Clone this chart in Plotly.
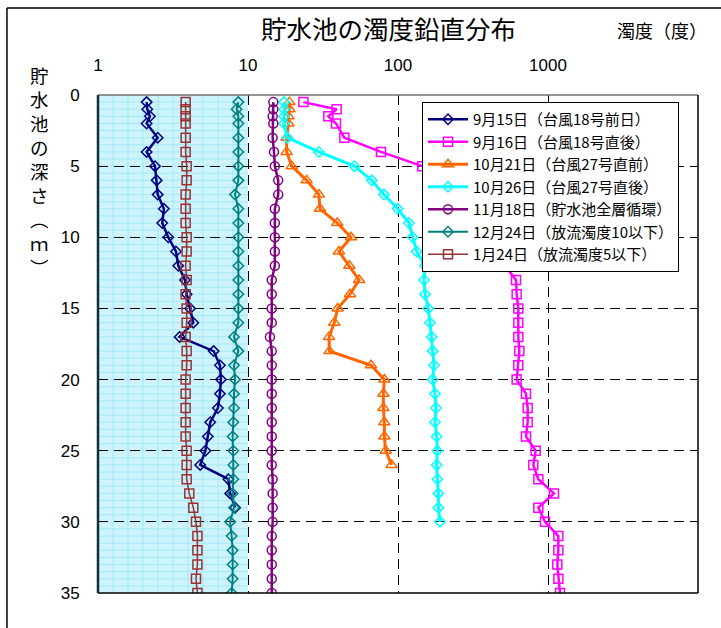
import plotly.graph_objects as go

# depths (m)
depth = [0.5, 1, 1.5, 2, 3, 4, 5, 6, 7, 8, 9, 10, 11, 12, 13, 14, 15, 16, 17, 18,
         19, 20, 21, 22, 23, 24, 25, 26, 27, 28, 29, 30, 31, 32, 33, 34, 35]

names = ["9月15日（台風18号前日）", "9月16日（台風18号直後）", "10月21日（台風27号直前）",
         "10月26日（台風27号直後）", "11月18日（貯水池全層循環）", "12月24日（放流濁度10以下）",
         "1月24日（放流濁度5以下）"]

s0915 = [2.11, 2.13, 2.22, 2.11, 2.5, 2.11, 2.4, 2.46, 2.5, 2.75, 2.68, 2.94, 3.31, 3.43,
         3.8, 3.9, 4.11, 4.32, 3.5, 5.9, 6.5, 6.6, 6.5, 6.3, 5.6, 5.4, 5.2, 4.8, 7.4, 7.6, 8.2]
s0916 = [23.4, 39.0, 34.3, 38.6, 43.9, 77.0, 145, 300, 380, 430, 470, 495, 505, 517,
         612, 618, 634, 634, 634, 644, 634, 618, 713, 732, 732, 713, 828, 798, 862,
         1096, 862, 955, 1172, 1172, 1154, 1172, 1202]
s1021 = [18.9, 18.9, 18.6, 18.6, 18.1, 18.1, 19.6, 24.6, 29.7, 30.2, 39.4, 48.6, 40.4,
         47.4, 55.0, 47.9, 39.6, 37.6, 34.7, 34.9, 66.1, 81.1, 79.9, 79.9, 81.1, 81.1,
         82.7, 90.7]
s1026 = [17.4, 17.4, 17.4, 17.4, 18.3, 29.7, 51.2, 66.8, 80.6, 99.5, 118.4, 125.2,
         133.2, 151.4, 149.1, 151.4, 159.3, 163.5, 167.7, 170.3, 173.8, 170.3, 176.5,
         179.2, 176.5, 181.1, 183.0, 181.1, 183.0, 185.8, 185.8, 190.5]
s1118 = [14.75, 14.75, 14.6, 14.75, 14.6, 14.9, 15.1, 15.9, 15.9, 15.1, 15.1, 15.1, 15.1,
         15.1, 14.4, 14.4, 14.4, 14.4, 14.0, 14.4, 14.4, 14.4, 14.4, 14.4, 14.4, 14.4,
         14.4, 14.4, 14.6, 14.6, 14.6, 14.6, 14.4, 14.4, 14.4, 14.4, 14.4]
s1224 = [8.62, 8.40, 8.62, 8.62, 8.62, 8.62, 8.62, 8.62, 8.19, 8.62, 8.62, 8.62, 8.62,
         8.62, 8.62, 8.62, 8.62, 8.62, 8.07, 8.62, 8.07, 8.19, 8.07, 8.07, 7.98, 7.90,
         7.98, 7.98, 7.98, 7.90, 8.07, 7.59, 7.78, 7.90, 7.90, 7.90, 7.78]
s0124 = [3.84, 3.84, 3.84, 3.84, 3.84, 3.84, 3.9, 3.9, 3.84, 3.84, 3.84, 3.9, 3.9, 3.84,
         3.9, 3.84, 3.9, 3.9, 3.84, 3.9, 3.9, 3.84, 3.84, 3.84, 3.84, 3.84, 3.9, 3.9,
         3.9, 4.06, 4.32, 4.5, 4.6, 4.6, 4.6, 4.5, 4.6]

x_tickvals = [1, 10, 100, 1000, 10000]
x_ticktext = ["1", "10", "100", "1000", "10000"]
y_tickvals = [0, 5, 10, 15, 20, 25, 30, 35]

series = [s0915, s0916, s1021, s1026, s1118, s1224, s0124]
colors = ["#000080", "#FF00FF", "#FF6600", "#00FFFF", "#800080", "#008080", "#993333"]
symbols = ["diamond-open", "square-open", "triangle-up-open", "diamond-open",
           "circle-open", "diamond-open", "square-open"]
msizes = [8, 9, 10, 8, 9, 8, 9]
lwidths = [2.5, 2.5, 3, 3, 2.5, 2, 1.5]

JP = "Noto Sans CJK JP"
NUM = "Liberation Sans, Arial, sans-serif"

fig = go.Figure()
for vals, nm, c, sym, ms, lw in zip(series, names, colors, symbols, msizes, lwidths):
    fig.add_trace(go.Scatter(
        x=vals, y=depth[:len(vals)], name=nm, mode="lines+markers",
        line=dict(color=c, width=lw),
        marker=dict(symbol=sym, size=ms, color=c, line=dict(color=c, width=1.5)),
    ))

shapes = []
# light blue pattern region (1..10)
shapes.append(dict(type="rect", xref="paper", yref="paper", x0=0, x1=0.25, y0=0, y1=1,
                   fillcolor="#CDF3FC", line=dict(width=0), layer="below"))
for k in range(1, 10):
    shapes.append(dict(type="line", xref="paper", yref="paper", x0=k * 0.025, x1=k * 0.025,
                       y0=0, y1=1, line=dict(color="#A3E9F8", width=1), layer="below"))
for i in range(1, 70):
    yy = i * 0.5
    shapes.append(dict(type="line", xref="paper", yref="y", x0=0, x1=0.25, y0=yy, y1=yy,
                       line=dict(color="#A3E9F8", width=1), layer="below"))
# plot frame
shapes.append(dict(type="line", xref="paper", yref="paper", x0=0, x1=1, y0=1, y1=1,
                   line=dict(color="#707070", width=1.5)))
shapes.append(dict(type="line", xref="paper", yref="paper", x0=0, x1=1, y0=0, y1=0,
                   line=dict(color="black", width=1.5)))
shapes.append(dict(type="line", xref="paper", yref="paper", x0=1, x1=1, y0=0, y1=1,
                   line=dict(color="black", width=1.5)))
shapes.append(dict(type="line", xref="paper", yref="paper", x0=0, x1=0, y0=0, y1=1,
                   line=dict(color="#103038", width=2.5)))
# outer chart border
shapes.append(dict(type="line", xref="paper", yref="paper", x0=-0.1517, x1=1.2,
                   y0=1.1747, y1=1.1747, line=dict(color="black", width=1.5)))
shapes.append(dict(type="line", xref="paper", yref="paper", x0=-0.1517, x1=-0.1517,
                   y0=1.1747, y1=-0.2, line=dict(color="black", width=1.5)))

annotations = [
    dict(text="貯水池の濁度鉛直分布", xref="paper", yref="paper", x=(388 - 98) / 600,
         y=(593 - 27) / 498, showarrow=False, xanchor="center", yanchor="middle",
         font=dict(family=JP, size=25.5, color="black")),
    dict(text="濁度（度）", xref="paper", yref="paper", x=(662 - 98) / 600,
         y=(593 - 30) / 498, showarrow=False, xanchor="center", yanchor="middle",
         font=dict(family=JP, size=18, color="black")),
    dict(text="<br>".join(["貯", "水", "池", "の", "深", "さ", "︵", "ｍ", "︶"]),
         xref="paper", yref="paper", x=(39 - 98) / 600, y=(593 - 171) / 498,
         showarrow=False, xanchor="center", yanchor="middle", align="center",
         font=dict(family=JP, size=18.5, color="black")),
]

fig.update_layout(
    width=721, height=628,
    margin=dict(l=98, r=23, t=95, b=35),
    paper_bgcolor="white", plot_bgcolor="white",
    showlegend=True,
    legend=dict(x=(422 - 98) / 600, y=(593 - 102) / 498, xanchor="left", yanchor="top",
                bgcolor="white", bordercolor="black", borderwidth=1,
                font=dict(family=JP, size=15, color="black"),
                itemwidth=40, traceorder="normal"),
    shapes=shapes,
    annotations=annotations,
    xaxis=dict(type="log", range=[0, 4], side="top", tickvals=x_tickvals,
               ticktext=x_ticktext, showgrid=True, gridcolor="black", gridwidth=1,
               griddash="10px,6px", zeroline=False, showline=False,
               ticks="outside", ticklen=16, tickcolor="rgba(0,0,0,0)",
               tickfont=dict(family=NUM, size=17, color="black")),
    yaxis=dict(range=[35, 0], tickvals=y_tickvals, showgrid=True, gridcolor="black",
               gridwidth=1, griddash="10px,6px", zeroline=False, showline=False,
               ticks="outside", ticklen=14, tickcolor="rgba(0,0,0,0)",
               tickfont=dict(family=NUM, size=17, color="black")),
)

fig.write_html("out.html", config={"displayModeBar": False},
               post_script="document.body.style.margin='0';document.body.style.overflow='hidden';")
